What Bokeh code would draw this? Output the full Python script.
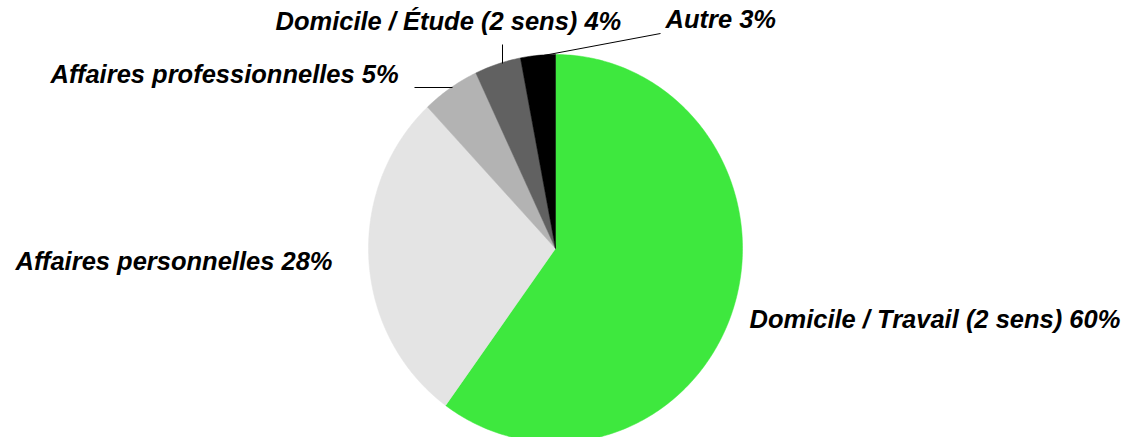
import math
from bokeh.plotting import figure
from bokeh.models import Range1d, ColumnDataSource
from bokeh.core.properties import value
from bokeh.embed import file_html
from bokeh.resources import INLINE

# ---- data ----
categories = [
    "Domicile / Travail (2 sens)",
    "Affaires personnelles",
    "Affaires professionnelles",
    "Domicile / Étude (2 sens)",
    "Autre",
]
shares = [60, 28, 5, 4, 3]
colors = ["#3EE83E", "#E4E4E4", "#B3B3B3", "#616161", "#000000"]

# ---- layout (picture px, top-left origin) ----
W, H = 1128, 437
def sy(y):
    return H - y

cx, cy, RX, RY = 555, 248, 187, 194
label_pos = [(749, 318.5), (15, 260), (50, 73), (275, 20), (665, 18)]
leaders = [
    None,
    None,
    ([414, 452], [87, 87]),
    ([502, 502], [44, 63]),
    ([660, 543], [33, 55]),
]

p = figure(width=W, height=H, output_backend="svg", toolbar_location=None,
           x_range=Range1d(0, W), y_range=Range1d(0, H),
           min_border=0, outline_line_color=None)
p.axis.visible = False
p.grid.visible = False
p.background_fill_color = "white"
p.border_fill_color = "white"

# pie slices as polygons (clockwise from 12 o'clock)
total = sum(shares)
xs, ys = [], []
acc = 0.0
for s in shares:
    t0 = 2 * math.pi * acc / total
    acc += s
    t1 = 2 * math.pi * acc / total
    n = max(8, int(s * 4))
    px, py = [cx], [sy(cy)]
    for i in range(n + 1):
        t = t0 + (t1 - t0) * i / n
        px.append(cx + RX * math.sin(t))
        py.append(sy(cy - RY * math.cos(t)))
    xs.append(px)
    ys.append(py)

src = ColumnDataSource(dict(xs=xs, ys=ys, color=colors))
p.patches(xs="xs", ys="ys", fill_color="color", line_color="color",
          line_width=0.5, source=src)

for ld in leaders:
    if ld:
        p.line(ld[0], [sy(v) for v in ld[1]], line_color="black", line_width=1)

texts = [f"{c} {s}%" for c, s in zip(categories, shares)]
tsrc = ColumnDataSource(dict(x=[q[0] for q in label_pos],
                             y=[sy(q[1]) for q in label_pos], t=texts))
p.text(x="x", y="y", text="t", source=tsrc, text_font=value("Liberation Sans"),
       text_font_style="bold italic", text_font_size="25.5px",
       text_baseline="middle", text_align="left", text_color="black")

open("out.html", "w").write(file_html(p, INLINE))
